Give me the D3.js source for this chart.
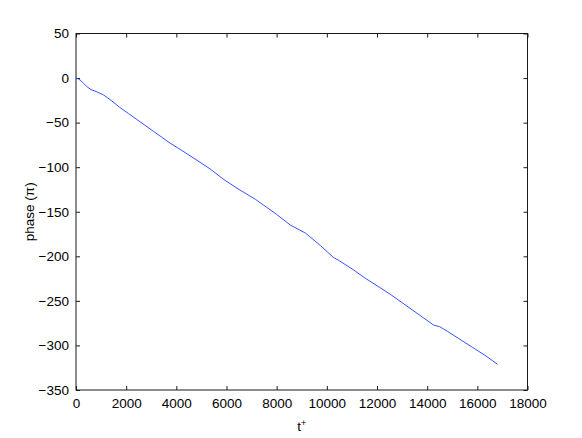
<!DOCTYPE html>
<meta charset="utf-8">
<html>
<head>
<style>
  body { margin: 0; background: #fff; }
  svg text { font-family: "Liberation Sans", Arial, sans-serif; }
</style>
</head>
<body>
<div id="chart"></div>
<script src="https://d3js.org/d3.v7.min.js"></script>
<script>
  // values
  var tPlus = [0, 100, 200, 300, 450, 600, 800, 1100, 1400, 1750, 2100, 2400, 2750, 3100, 3400,
               3750, 4150, 4700, 5350, 5900, 6500, 7150, 7600, 8000, 8550, 9150, 9750, 10250,
               10500, 11050, 11500, 12000, 12550, 13200, 13850, 14250, 14500, 14800, 15300,
               15800, 16300, 16800];
  var phase = [0, -1, -3, -6, -10, -13, -15, -19, -25, -33, -40, -46, -53, -60, -66,
               -73, -80, -90, -102, -114, -125, -136, -145, -153, -165, -174, -188, -201,
               -205, -215, -224, -233, -243, -256, -269, -277, -279, -284, -293,
               -302, -311, -321];
  var xTicks = [0, 2000, 4000, 6000, 8000, 10000, 12000, 14000, 16000, 18000];
  var yTicks = [50, 0, -50, -100, -150, -200, -250, -300, -350];

  var W = 582, H = 438;
  var margin = {top: 33.5, right: 54.5, bottom: 48, left: 76},
      width = W - margin.left - margin.right,
      height = H - margin.top - margin.bottom;

  var svg = d3.select("#chart").append("svg")
      .attr("width", W).attr("height", H)
    .append("g")
      .attr("transform", "translate(" + margin.left + "," + margin.top + ")");

  var x = d3.scaleLinear().domain([0, 18000]).range([0, width]);
  var y = d3.scaleLinear().domain([-350, 50]).range([height, 0]);

  var axisColor = "#1a1a1a";
  var fmt = d3.format("d");

  // ticks point inward, like matlab
  function styleAxis(g) {
    g.select(".domain").remove();
    g.selectAll("line").attr("stroke", axisColor);
    g.selectAll("text").attr("fill", "#000").style("font-size", "13.5px");
  }

  svg.append("g")
    .attr("transform", "translate(0," + height + ")")
    .call(d3.axisBottom(x).tickValues(xTicks).tickFormat(fmt).tickSizeInner(-4).tickSizeOuter(0).tickPadding(8))
    .call(styleAxis);
  svg.append("g")
    .call(d3.axisTop(x).tickValues(xTicks).tickSizeInner(-4).tickSizeOuter(0).tickFormat(""))
    .call(styleAxis);
  svg.append("g")
    .call(d3.axisLeft(y).tickValues(yTicks).tickFormat(fmt).tickSizeInner(-4).tickSizeOuter(0).tickPadding(7))
    .call(styleAxis);
  svg.selectAll("text").filter(function() { return this.textContent.charAt(0) === "-"; })
    .text(function() { return "\u2212" + this.textContent.slice(1); });
  svg.append("g")
    .attr("transform", "translate(" + width + ",0)")
    .call(d3.axisRight(y).tickValues(yTicks).tickSizeInner(-4).tickSizeOuter(0).tickFormat(""))
    .call(styleAxis);

  // box
  svg.append("rect")
    .attr("width", width).attr("height", height)
    .attr("fill", "none").attr("stroke", axisColor).attr("stroke-width", 1);

  var pts = tPlus.map(function(t, i) { return [t, phase[i]]; });
  svg.append("path")
    .datum(pts)
    .attr("fill", "none")
    .attr("stroke", "#1f3fff")
    .attr("stroke-width", 0.9)
    .attr("d", d3.line()
      .x(function(d) { return x(d[0]); })
      .y(function(d) { return y(d[1]); }));

  // labels
  var xl = svg.append("text")
    .attr("x", width / 2).attr("y", height + 41)
    .attr("text-anchor", "middle")
    .style("font-size", "13.5px");
  xl.append("tspan").text("t");
  xl.append("tspan").attr("dy", -5).style("font-size", "9px").text("+");

  svg.append("text")
    .attr("transform", "translate(-42," + height / 2 + ") rotate(-90)")
    .attr("text-anchor", "middle")
    .style("font-size", "13.5px")
    .text("phase (\u03c0)");
</script>
</body>
</html>
